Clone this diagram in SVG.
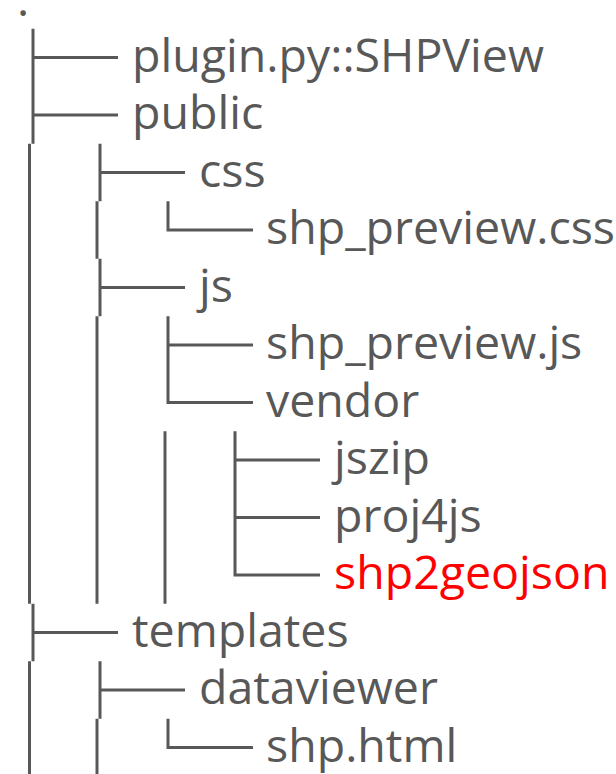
<svg xmlns="http://www.w3.org/2000/svg" width="616" height="774" viewBox="0 0 616 774">
<style>
  .t { font-family: "Open Sans", "Noto Sans", sans-serif; font-size: 46.5px; fill: #585858; }
  .hl { fill: #ff0000; }
  .c { stroke: #585858; stroke-width: 3; fill: none; }
</style>
<rect width="616" height="774" fill="#ffffff"/>
<g id="connectors" class="c">
  <!-- level 0 -->
  <path d="M33 28.75 V143.75 M33 57.5 H118 M33 115 H118"/>
  <path d="M29.5 143.75 V603.75"/>
  <path d="M33 603.75 V661.25 M33 632.5 H118"/>
  <path d="M29.5 661.25 V776"/>
  <!-- level 1 -->
  <path d="M100 143.75 V201.25 M100 172.5 H185"/>
  <path d="M97 201.25 V258.75"/>
  <path d="M100 258.75 V316.25 M100 287.5 H185"/>
  <path d="M97 316.25 V603.75"/>
  <path d="M100 661.25 V718.75 M100 690 H185"/>
  <path d="M97 718.75 V776"/>
  <!-- level 2 -->
  <path d="M168 201.25 V230 H253"/>
  <path d="M168 316.25 V402.5 H253 M168 345 H253"/>
  <path d="M165 431.25 V603.75"/>
  <path d="M168 718.75 V747.5 H253"/>
  <!-- level 3 -->
  <path d="M235 431.25 V575 H320 M235 460 H320 M235 517.5 H320"/>
</g>
<g id="root"><text class="t" x="17" y="16">.</text></g>
<g id="plugin"><text class="t" x="132" y="71.5">plugin.py::SHPView</text></g>
<g id="public"><text class="t" x="132" y="129">public</text></g>
<g id="css"><text class="t" x="199" y="186.5">css</text></g>
<g id="shp_preview_css"><text class="t" x="266" y="244">shp_preview.css</text></g>
<g id="js"><text class="t" x="199" y="301.5">js</text></g>
<g id="shp_preview_js"><text class="t" x="266" y="359">shp_preview.js</text></g>
<g id="vendor"><text class="t" x="266" y="416.5">vendor</text></g>
<g id="jszip"><text class="t" x="334" y="474">jszip</text></g>
<g id="proj4js"><text class="t" x="334" y="531.5">proj4js</text></g>
<g id="shp2geojson"><text class="t hl" x="334" y="589">shp2geojson</text></g>
<g id="templates"><text class="t" x="132" y="646.5">templates</text></g>
<g id="dataviewer"><text class="t" x="199" y="704">dataviewer</text></g>
<g id="shp_html"><text class="t" x="266" y="761.5">shp.html</text></g>
</svg>
